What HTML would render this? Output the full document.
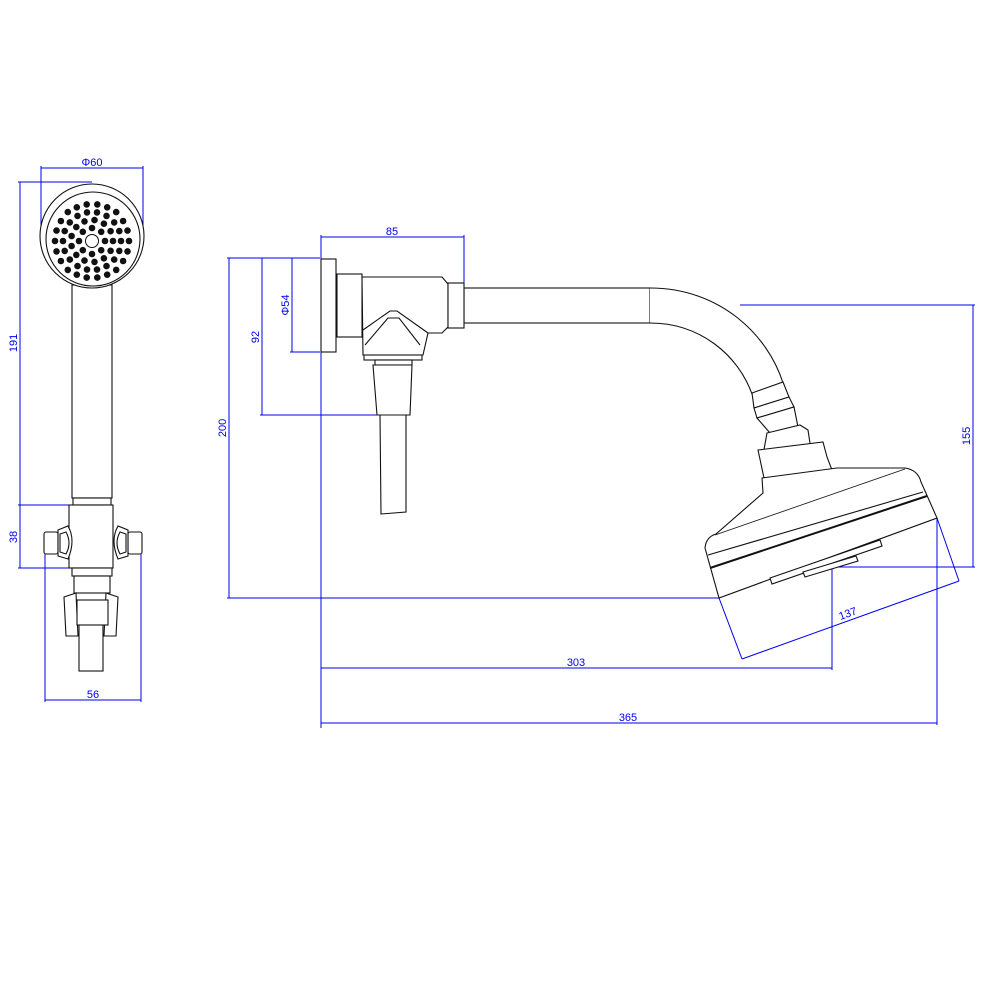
<!DOCTYPE html>
<html><head><meta charset="utf-8"><style>
html,body{margin:0;padding:0;background:#fff}
svg{display:block}
text{font-family:"Liberation Sans",sans-serif;font-size:11px;fill:#0000ee}
</style></head><body>
<svg width="991" height="991" viewBox="0 0 991 991" xmlns="http://www.w3.org/2000/svg">
<g fill="none" stroke="#0000ee" stroke-width="1">
<!-- handset dims -->
<line x1="41" y1="168" x2="143" y2="168"/><line x1="41" y1="166" x2="41" y2="236"/><line x1="143" y1="166" x2="143" y2="236"/>
<line x1="20" y1="182" x2="20" y2="568"/><line x1="18" y1="182" x2="92" y2="182"/><line x1="18" y1="505" x2="72" y2="505"/><line x1="18" y1="568" x2="72" y2="568"/>
<line x1="45" y1="700" x2="141" y2="700"/><line x1="45" y1="545" x2="45" y2="702"/><line x1="141" y1="545" x2="141" y2="702"/>
<!-- main dims -->
<line x1="321" y1="237" x2="464" y2="237"/><line x1="321" y1="235" x2="321" y2="728"/><line x1="464" y1="235" x2="464" y2="284"/>
<line x1="229" y1="258" x2="229" y2="598"/><line x1="227" y1="258" x2="320" y2="258"/><line x1="227" y1="598" x2="720" y2="598"/>
<line x1="262" y1="258" x2="262" y2="415"/><line x1="260" y1="415" x2="378" y2="415"/>
<line x1="292" y1="258" x2="292" y2="352"/><line x1="290" y1="352" x2="320" y2="352"/>
<line x1="321" y1="668" x2="832" y2="668"/><line x1="832" y1="567" x2="832" y2="670"/>
<line x1="321" y1="723" x2="937" y2="723"/><line x1="937" y1="518" x2="937" y2="725"/>
<line x1="973" y1="305" x2="973" y2="567"/><line x1="740" y1="305" x2="975" y2="305"/><line x1="832" y1="567" x2="975" y2="567"/>
<line x1="742" y1="659" x2="959" y2="581"/><line x1="719" y1="598" x2="742" y2="659"/><line x1="937" y1="518" x2="959" y2="581"/>
</g>
<text x="92" y="166" text-anchor="middle">Φ60</text>
<text transform="translate(17,343) rotate(-90)" text-anchor="middle">191</text>
<text transform="translate(17,537) rotate(-90)" text-anchor="middle">38</text>
<text x="93" y="698" text-anchor="middle">56</text>
<text x="392" y="235" text-anchor="middle">85</text>
<text transform="translate(226,428) rotate(-90)" text-anchor="middle">200</text>
<text transform="translate(259,337) rotate(-90)" text-anchor="middle">92</text>
<text transform="translate(289,305) rotate(-90)" text-anchor="middle">Φ54</text>
<text x="576" y="666" text-anchor="middle">303</text>
<text x="628" y="721" text-anchor="middle">365</text>
<text transform="translate(970,436) rotate(-90)" text-anchor="middle">155</text>
<text transform="translate(849,617) rotate(-19.7)" text-anchor="middle">137</text>

<g fill="#fff" stroke="#111" stroke-width="1.1">
<!-- handset -->
<rect x="72" y="285" width="40" height="213"/>
<circle cx="92" cy="236" r="52"/>
<circle cx="93" cy="239" r="47"/>
<rect x="73" y="498" width="38" height="7"/>
<rect x="69" y="505" width="44" height="63"/>
<rect x="44" y="532" width="14" height="22" rx="2"/>
<rect x="128" y="532" width="14" height="22" rx="2"/>
<path d="M58,530 L68,526 Q76,540 68,559 L58,556 Z"/>
<path d="M128,530 L118,526 Q110,540 118,559 L128,556 Z"/>
<path d="M60,534 L66,532 Q72,543 66,554 L60,552 Z"/>
<path d="M126,534 L120,532 Q114,543 120,554 L126,552 Z"/>
<rect x="72" y="568" width="40" height="8"/>
<rect x="74" y="576" width="36" height="17"/>
<rect x="79" y="620" width="24" height="51"/>
<path d="M64,597 L76,593 L78,636 L66,636 Z"/>
<path d="M118,597 L106,593 L104,636 L116,636 Z"/>
<rect x="77" y="600" width="31" height="25"/>
<!-- wall unit -->
<rect x="464" y="288" width="186" height="35"/>
<path d="M650,288 C720,288 768,335 783,383 L752,394 C738,355 700,323 650,323" />
<rect x="321" y="259" width="15" height="93"/>
<rect x="337" y="274" width="25" height="63"/>
<path d="M362,277 L442,277 L448,284 L448,327 L442,333 L428,333 L423,355 L363,355 Z"/>
<rect x="448" y="283" width="16" height="45"/>
<path d="M363,330 L390,311 L397,311 L428,333"/>
<path d="M365,345 L388,318 L399,318 L420,345"/>
<rect x="364" y="355" width="58" height="5"/>
<rect x="375" y="360" width="37" height="5"/>
<path d="M373,365 L412,365 L410,415 L377,415 Z"/>
<path d="M380,415 L406,415 L406,512 L381,514 Z"/>
<!-- head collars -->
<path d="M752,393 L783,382 L789,397 L754,408 Z"/>
<path d="M754,408 L789,397 L794,407 L757,418 Z"/>
<path d="M757,418 L794,407 L798,427 L770,433 Z"/>
<path d="M767,433 L800,425 L808,430 L811,450 L763,455 Z"/>
<path d="M758,450 L823,442 L827,457 L832,470 L764,478 Z"/>
<path d="M762,478 L837,468 L905,468 Q918,470 921,482 L937,518 L719,598 L705,548 Q706,537 716,534 L763,493 Z"/>
<path d="M708,555 L923,492"/>
<path d="M710,568 L927,496" stroke-width="2"/>
<path d="M715,535 L905,469" stroke-width="0.8"/>
<path d="M770,578 L880,540 L882,546 L772,584 Z"/>
<path d="M803,572 L856,556 L858,561 L805,577 Z"/>
</g>
<g fill="#111">
<circle cx="92" cy="241" r="6.5" fill="#fff" stroke="#111"/>
</g>
<g id="holes" fill="#111" stroke="none">
<!-- ring r=13 -->
<circle cx="105" cy="241" r="3.3"/><circle cx="101.2" cy="250.2" r="3.3"/><circle cx="92" cy="254" r="3.3"/><circle cx="82.8" cy="250.2" r="3.3"/><circle cx="79" cy="241" r="3.3"/><circle cx="82.8" cy="231.8" r="3.3"/><circle cx="92" cy="228" r="3.3"/><circle cx="101.2" cy="231.8" r="3.3"/>
<!-- ring r=21, 13 holes -->
<circle cx="113" cy="241" r="3.3"/><circle cx="110.6" cy="250.8" r="3.3"/><circle cx="103.9" cy="258.3" r="3.3"/><circle cx="94.5" cy="261.9" r="3.3"/><circle cx="84.5" cy="260.6" r="3.3"/><circle cx="76.3" cy="254.9" r="3.3"/><circle cx="71.6" cy="246" r="3.3"/><circle cx="71.6" cy="236" r="3.3"/><circle cx="76.3" cy="227.1" r="3.3"/><circle cx="84.5" cy="221.4" r="3.3"/><circle cx="94.5" cy="220.1" r="3.3"/><circle cx="103.9" cy="223.7" r="3.3"/><circle cx="110.6" cy="231.2" r="3.3"/>
<!-- ring r=29, 18 holes -->
<circle cx="121" cy="241" r="3.3"/><circle cx="119.3" cy="250.9" r="3.3"/><circle cx="114.2" cy="259.6" r="3.3"/><circle cx="106.5" cy="266.1" r="3.3"/><circle cx="97" cy="269.6" r="3.3"/><circle cx="87" cy="269.6" r="3.3"/><circle cx="77.5" cy="266.1" r="3.3"/><circle cx="69.8" cy="259.6" r="3.3"/><circle cx="64.7" cy="250.9" r="3.3"/><circle cx="63" cy="241" r="3.3"/><circle cx="64.7" cy="231.1" r="3.3"/><circle cx="69.8" cy="222.4" r="3.3"/><circle cx="77.5" cy="215.9" r="3.3"/><circle cx="87" cy="212.4" r="3.3"/><circle cx="97" cy="212.4" r="3.3"/><circle cx="106.5" cy="215.9" r="3.3"/><circle cx="114.2" cy="222.4" r="3.3"/><circle cx="119.3" cy="231.1" r="3.3"/>
<!-- ring r=37, 22 holes -->
<circle cx="129" cy="241" r="3.3"/><circle cx="127.5" cy="251.4" r="3.3"/><circle cx="123.1" cy="261" r="3.3"/><circle cx="116.2" cy="269.9" r="3.3"/><circle cx="107.2" cy="274.7" r="3.3"/><circle cx="97.3" cy="277.6" r="3.3"/><circle cx="86.7" cy="277.6" r="3.3"/><circle cx="76.8" cy="274.7" r="3.3"/><circle cx="67.8" cy="269.9" r="3.3"/><circle cx="60.9" cy="261" r="3.3"/><circle cx="56.5" cy="251.4" r="3.3"/><circle cx="55" cy="241" r="3.3"/><circle cx="56.5" cy="230.6" r="3.3"/><circle cx="60.9" cy="221" r="3.3"/><circle cx="67.8" cy="212.1" r="3.3"/><circle cx="76.8" cy="207.3" r="3.3"/><circle cx="86.7" cy="204.4" r="3.3"/><circle cx="97.3" cy="204.4" r="3.3"/><circle cx="107.2" cy="207.3" r="3.3"/><circle cx="116.2" cy="212.1" r="3.3"/><circle cx="123.1" cy="221" r="3.3"/><circle cx="127.5" cy="230.6" r="3.3"/>
</g>
</svg>
</body></html>
